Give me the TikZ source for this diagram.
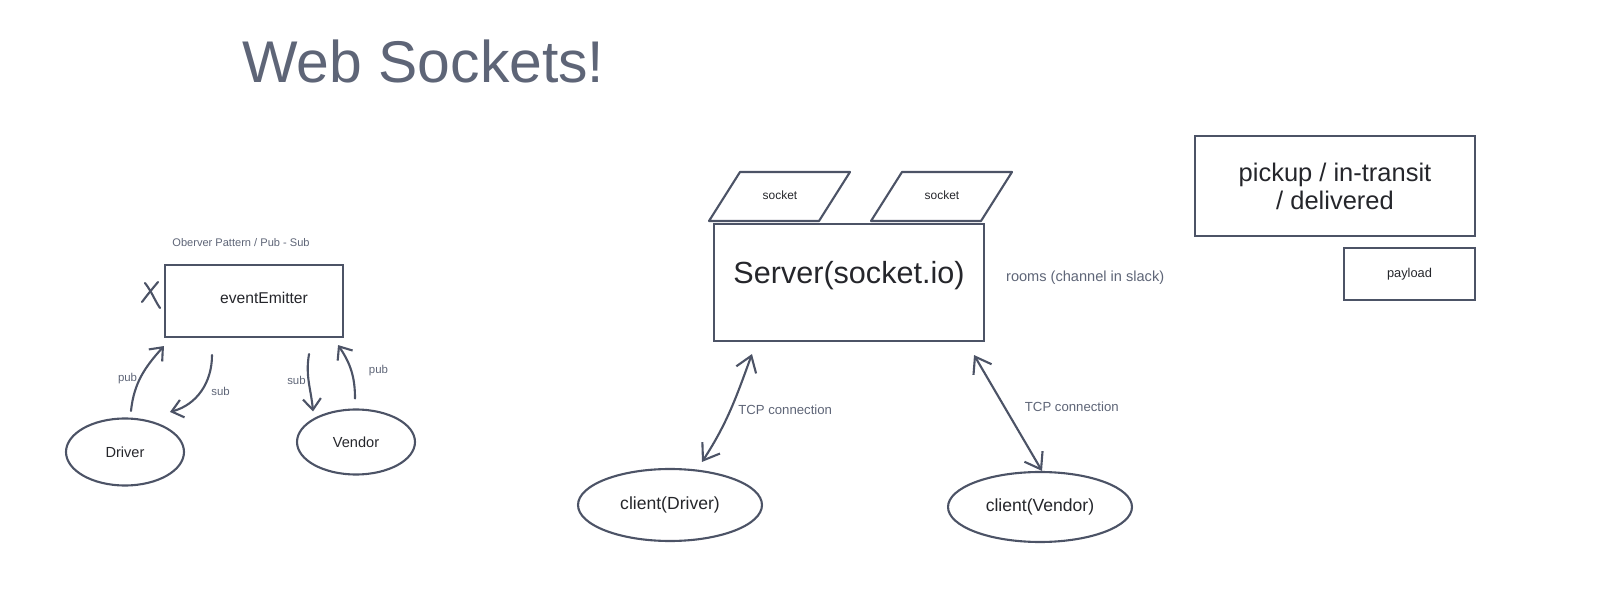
\documentclass[tikz,border=0pt]{standalone}
\usepackage{fontspec}
\setmainfont{Liberation Sans}
\usepackage{tikz}
\usetikzlibrary{shapes.geometric, arrows.meta, positioning}
\definecolor{inkline}{HTML}{4C5366}
\definecolor{inktext}{HTML}{5E6577}
\definecolor{darktext}{HTML}{25262B}
\newcommand{\fsize}[1]{\fontsize{#1}{#1}\selectfont}

\begin{document}
\begin{tikzpicture}[x=0.02cm, y=0.02cm, line cap=round, >={Straight Barb[length=0.22cm, width=0.36cm]}]
    \tikzstyle{box} = [rectangle, draw=inkline, line width=1.2pt, inner sep=0pt, text=darktext]
    \tikzstyle{oval} = [ellipse, draw=inkline, line width=1.2pt, inner sep=0pt, text=darktext]
    \tikzstyle{outline} = [draw=inkline, line width=1.2pt, line join=round]
    \tikzstyle{socketlabel} = [text=darktext, inner sep=1pt, font=\fsize{6.8}]
    \tikzstyle{note} = [text=inktext, inner sep=1pt, font=\fsize{7.5}]
    \tikzstyle{tag} = [text=inktext, inner sep=1pt, font=\fsize{6.5}]
    \tikzstyle{link} = [->, draw=inkline, line width=1.2pt]
    \tikzstyle{tcp} = [<->, draw=inkline, line width=1.2pt, >={Straight Barb[length=0.3cm, width=0.42cm]}]

    \useasboundingbox (0,0) rectangle (1612,-607);

    \node (title) [anchor=base west, inner sep=0pt, text=inktext, font=\fsize{33.5}] at (242,-83) {Web Sockets!};

    % pub / sub with an event emitter
    \node (emitter) [box, minimum width=3.56cm, minimum height=1.44cm,
        label={[text=darktext, font=\fsize{8.9}, xshift=0.2cm, yshift=0.06cm]center:eventEmitter}] at (254,-301) {};
    \node (observer) [tag, font=\fsize{6.3}, above=0.3cm of emitter, xshift=-0.26cm] {Oberver Pattern / Pub - Sub};
    \node (driver) [oval, minimum width=2.36cm, minimum height=1.34cm, font=\fsize{8.3}] at (125,-452) {Driver};
    \node (vendor) [oval, minimum width=2.36cm, minimum height=1.30cm, font=\fsize{8.3}] at (356,-442) {Vendor};

    % crossed out
    \draw [inkline, line width=1.2pt] (145,-283) .. controls (152,-292) and (155,-301) .. (160,-308);
    \draw [inkline, line width=1.2pt] (142,-302) .. controls (148,-294) and (153,-288) .. (158,-282);

    \draw [link] ([xshift=0.12cm, yshift=0.13cm]driver.north) to[out=84, in=228] node[tag, left, pos=0.45] {pub} ([yshift=-0.16cm]emitter.south west);
    \draw [link] ([xshift=-0.84cm, yshift=-0.34cm]emitter.south) to[out=270, in=15] node[tag, right=0.15cm, pos=0.5] {sub} ([xshift=0.9cm, yshift=0.11cm]driver.north);
    \draw [link] ([xshift=-0.7cm, yshift=-0.32cm]emitter.south east) to[out=260, in=95] node[tag, left, pos=0.45] {sub} ([xshift=-0.86cm, yshift=-0.06cm]vendor.north);
    \draw [link] ([xshift=-0.02cm, yshift=0.2cm]vendor.north) to[out=90, in=304] node[tag, right=0.3cm, pos=0.5] {pub} ([xshift=-0.12cm, yshift=-0.14cm]emitter.south east);

    % socket.io server
    \node (server) [box, minimum width=5.4cm, minimum height=2.34cm, text height=0.5cm, text depth=0.44cm, font=\fsize{17.4}] at (849,-282.5) {Server(socket.io)};
    \node (sock1) [socketlabel] at (780,-195) {socket};
    \node (sock2) [socketlabel] at (942,-195) {socket};
    \draw [outline] ([shift={(-71,-26)}]sock1.center) -- ++(110,0) -- ++(31,49) -- ++(-110,0) -- cycle;
    \draw [outline] ([shift={(-71,-26)}]sock2.center) -- ++(110,0) -- ++(31,49) -- ++(-110,0) -- cycle;
    \node (rooms) [note, font=\fsize{8.3}, right=0.38cm of server, yshift=0.09cm] {rooms (channel in slack)};
    \node (cdriver) [oval, minimum width=3.68cm, minimum height=1.44cm, font=\fsize{10}] at (670,-505) {client(Driver)};
    \node (cvendor) [oval, minimum width=3.68cm, minimum height=1.40cm, font=\fsize{10}] at (1040,-507) {client(Vendor)};

    \draw [tcp] ([xshift=0.78cm, yshift=-0.24cm]server.south west) to[out=250, in=57] node[note, right=0.1cm, pos=0.5] {TCP connection} ([xshift=0.64cm, yshift=0.12cm]cdriver.north);
    \draw [tcp] ([xshift=-0.22cm, yshift=-0.26cm]server.south east) -- node[note, right=0.35cm, pos=0.45] {TCP connection} ([xshift=0.04cm]cvendor.north);

    % order status
    \node (status) [box, minimum width=5.6cm, minimum height=2cm, align=center, font=\fontsize{14.5}{16}\selectfont] at (1335,-186) {pickup / in-transit\\/ delivered};
    \node (payload) [box, minimum width=2.62cm, minimum height=1.04cm, font=\fsize{7.3}, below=0.2cm of status.south east, anchor=north east] {payload};
\end{tikzpicture}
\end{document}
